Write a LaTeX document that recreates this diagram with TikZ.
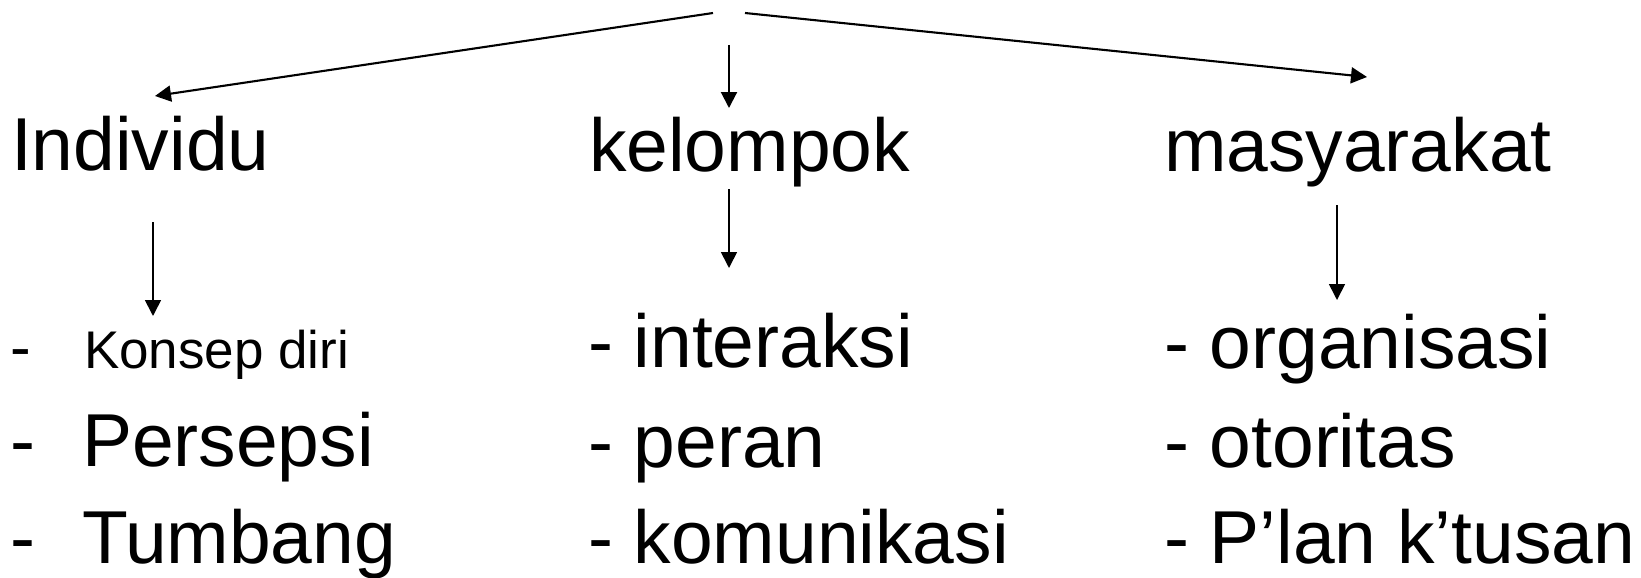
\documentclass[tikz,border=0pt]{standalone}
\usepackage{fontspec}
\setmainfont{Liberation Sans}
\usetikzlibrary{arrows.meta}
\begin{document}
\begin{tikzpicture}[x=1pt,y=-1pt,
  big/.style={anchor=base west, inner sep=0pt, outer sep=0pt, font=\fontsize{75}{80}\selectfont},
  small/.style={anchor=base west, inner sep=0pt, outer sep=0pt, font=\fontsize{53}{56}\selectfont},
  arr/.style={-{Triangle[width=16pt,length=16pt]}, line width=1.7pt},
  toparr/.style={arr, line width=2.1pt}]
\useasboundingbox (0,0) rectangle (1641,578);

% top level headings
\node[big] (ind) at (11,170) {Individu};
\node[big] (kel) at (589,171) {kelompok};
\node[big] (mas) at (1164,171) {masyarakat};

% left column
\node[small, font=\fontsize{62}{64}\selectfont] (d1) at (10,368) {-};
\node[small] (konsep) at (84,368) {Konsep diri};
\node[big] (d2) at (10,466) {-};
\node[big] (persepsi) at (82,466) {Persepsi};
\node[big] (d3) at (10,563) {-};
\node[big] (tumbang) at (82,563) {Tumbang};

% middle column
\node[big] (interaksi) at (588,367) {- interaksi};
\node[big] (peran) at (588,467) {- peran};
\node[big] (komunikasi) at (588,563) {- komunikasi};

% right column
\node[big] (organisasi) at (1164,368) {- organisasi};
\node[big] (otoritas) at (1164,467) {- otoritas};
\node[big] (plan) at (1164,563) {- P’lan k’tusan};

% connector end points
\coordinate (rootL) at (713,13);
\coordinate (rootR) at (745,13);
\coordinate (rootM) at (729,45);
\coordinate (tipL) at (155,96);
\coordinate (tipR) at (1367,77);
\coordinate (tipM) at (729,108);
\coordinate (indS) at (153,222);
\coordinate (indE) at (153,316);
\coordinate (kelS) at (729,189);
\coordinate (kelE) at (729,268);
\coordinate (masS) at (1337,205);
\coordinate (masE) at (1337,300);

\draw[toparr] (rootL) -- (tipL);
\draw[toparr] (rootR) -- (tipR);
\draw[toparr] (rootM) -- (tipM);
\draw[arr] (indS) -- (indE);
\draw[arr] (kelS) -- (kelE);
\draw[arr] (masS) -- (masE);
\end{tikzpicture}
\end{document}
